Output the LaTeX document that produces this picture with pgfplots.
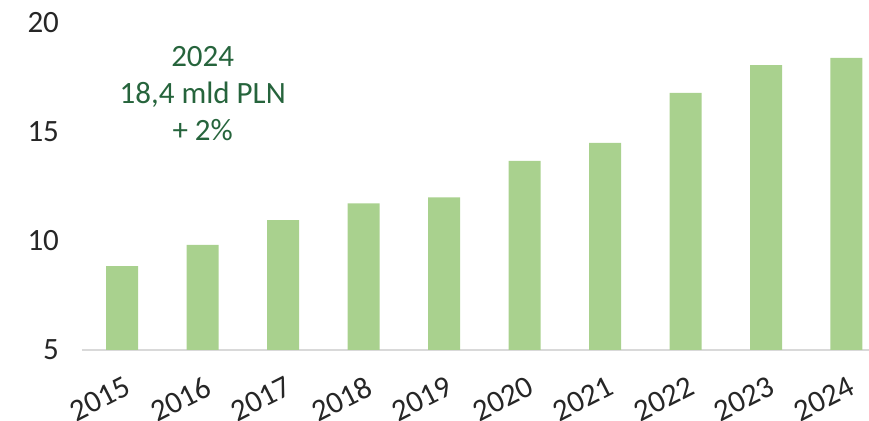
\documentclass[border=0pt]{standalone}
\usepackage{pgfplots}
\pgfplotsset{compat=1.18}
\usepackage{fontspec}
\setmainfont{Carlito}
\definecolor{barg}{RGB}{169,209,142}
\definecolor{txtg}{RGB}{38,100,60}
\definecolor{basel}{RGB}{217,217,217}
\begin{document}
\begin{tikzpicture}
\begin{axis}[
  name=ax,
  scale only axis,
  width=393.5pt, height=163.5pt,
  xmin=-0.5, xmax=9.28,
  ymin=5, ymax=20,
  enlargelimits=false,
  axis x line=bottom,
  axis y line=left,
  x axis line style={draw=basel, line width=1.2pt, -},
  y axis line style={draw=none},
  major tick length=0pt,
  ytick={5,10,15,20},
  xtick={0,...,9},
  xticklabels={2015,2016,2017,2018,2019,2020,2021,2022,2023,2024},
  /pgf/number format/assume math mode=true,
  tick label style={font=\fontsize{15.5}{17}\selectfont, text=black!85},
  yticklabel style={xshift=-8pt},
  xticklabel style={rotate=27, anchor=north east, inner sep=0pt, xshift=-5pt, yshift=-11.5pt},
  clip=false,
]
\addplot[ybar, bar width=16pt, fill=barg, draw=none] coordinates {
  (0,8.85) (1,9.82) (2,10.96) (3,11.73) (4,12.0) (5,13.67) (6,14.5) (7,16.8) (8,18.07) (9,18.4)
};
\node[align=center, text=txtg, font=\fontsize{15.5}{18.5}\selectfont] at (axis cs:1.0,16.75) {2024\\18,4 mld PLN\\+ 2\%};
\end{axis}
\pgfresetboundingbox
\path[use as bounding box] ([xshift=-41pt, yshift=-35.5pt]ax.south west) rectangle ([yshift=11.5pt]ax.north east);
\end{tikzpicture}
\end{document}
